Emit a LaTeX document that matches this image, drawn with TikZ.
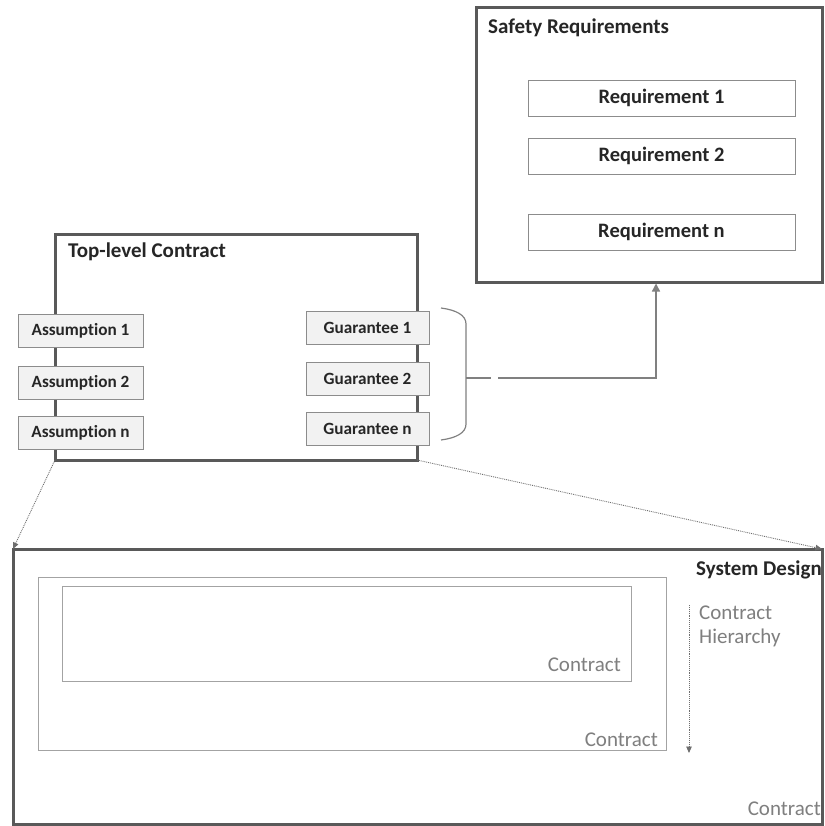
\documentclass[tikz,border=0pt]{standalone}
\usepackage{fontspec}
\setmainfont{Carlito}[Ligatures={NoCommon}]
\usetikzlibrary{arrows.meta}
\definecolor{frame}{HTML}{595959}
\definecolor{thin}{HTML}{8C8C8C}
\definecolor{afill}{HTML}{F2F2F2}
\definecolor{gtext}{HTML}{7F7F7F}
\definecolor{arr}{HTML}{808080}
\definecolor{darr}{HTML}{6E6E6E}
\definecolor{ink}{HTML}{262626}
\begin{document}
\begin{tikzpicture}[x=1pt,y=-1pt,
 bigframe/.style={draw=frame,line width=3pt,fill=white,inner sep=0,outer sep=0,anchor=north west},
 reqbox/.style={draw=thin,line width=0.9pt,fill=white,inner sep=0,outer sep=0,text=ink,font=\fontsize{20.5}{22}\selectfont\bfseries},
 abox/.style={draw=thin,line width=0.9pt,fill=afill,inner sep=0,outer sep=0,text=ink,font=\fontsize{17.2}{19}\selectfont\bfseries},
 ctrbox/.style={draw=thin!80,line width=0.8pt,inner sep=0,outer sep=0,anchor=north west},
 title/.style={anchor=west,font=\fontsize{21}{23}\selectfont\bfseries,text=ink,inner sep=0},
 glabel/.style={text=gtext,font=\fontsize{21}{24}\selectfont,inner sep=0},
 dotarrow/.style={draw=darr,line width=0.9pt,densely dotted,-{Triangle[width=5.5pt,length=6.5pt]}},
 conn/.style={draw=arr,line width=1.4pt}]
\useasboundingbox (0,0) rectangle (824,826);

% Safety requirements
\node[bigframe,minimum width=346,minimum height=274] (sr) at (476,8) {};
\node[title] (srt) at (488,28) {Safety Requirements};
\node[reqbox,minimum width=267,minimum height=36] (r1) at (661.5,98) {Requirement 1};
\node[reqbox,minimum width=267,minimum height=36] (r2) at (661.5,156) {Requirement 2};
\node[reqbox,minimum width=267,minimum height=36] (rn) at (661.5,232) {Requirement n};

% Top-level contract
\node[bigframe,minimum width=362,minimum height=226] (tlc) at (55,234) {};
\node[title] (tlct) at (68,252) {Top-level Contract};
\node[abox,minimum width=125,minimum height=33] (a1) at (80.5,330.5) {Assumption 1};
\node[abox,minimum width=125,minimum height=33] (a2) at (80.5,382.5) {Assumption 2};
\node[abox,minimum width=125,minimum height=33] (an) at (80.5,432.5) {Assumption n};
\node[abox,minimum width=123,minimum height=33] (g1) at (367.5,327.5) {Guarantee 1};
\node[abox,minimum width=123,minimum height=33] (g2) at (367.5,379) {Guarantee 2};
\node[abox,minimum width=123,minimum height=33] (gn) at (367.5,429) {Guarantee n};

% brace and connector
\coordinate (bt) at (441,308);
\coordinate (bm) at (466,378);
\coordinate (bb) at (441,440);
\draw[conn,line width=1.2pt] (bt) .. controls (456,310) and (466,315) .. (466,324) -- (466,424) .. controls (466,433) and (456,438) .. (bb);
\coordinate (gap1) at (491,378);
\coordinate (gap2) at (498,378);
\coordinate (srin) at (656,283.5);
\draw[conn] (bm) -- (gap1);
\draw[conn,-{Triangle[width=8pt,length=8pt]}] (gap2) -| (srin);

% System design
\node[bigframe,minimum width=809,minimum height=275] (sd) at (13,549) {};
\node[anchor=base east,inner sep=0,font=\fontsize{21}{23}\selectfont\bfseries,text=ink] (sdt) at (822,575) {System Design};
\node[ctrbox,minimum width=628,minimum height=173] (c1) at (38,577) {};
\node[ctrbox,minimum width=569,minimum height=95] (c2) at (62,586) {};
\node[glabel,anchor=base east] (c2l) at (621,671) {Contract};
\node[glabel,anchor=base east] (c1l) at (658,746) {Contract};
\node[glabel,anchor=base east] (sdl) at (821,815) {Contract};

% hierarchy arrow
\coordinate (h1) at (689,605);
\coordinate (h2) at (689,753);
\draw[dotarrow] (h1) -- (h2);
\node[glabel,anchor=base west,align=left] (hl1) at (699,619) {Contract};
\node[glabel,anchor=base west,align=left] (hl2) at (699,643) {Hierarchy};

% dotted arrows
\draw[dotarrow] (tlc.south west) -- (sd.north west);
\draw[dotarrow] (tlc.south east) -- (sd.north east);
\end{tikzpicture}
\end{document}
